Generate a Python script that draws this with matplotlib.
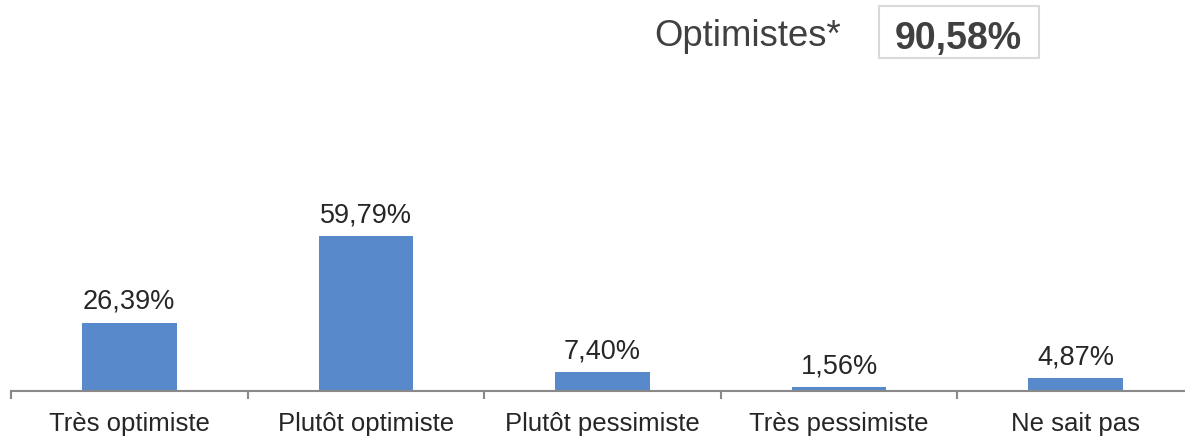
import matplotlib
matplotlib.use("Agg")
import matplotlib.pyplot as plt
from matplotlib.patches import Rectangle

categories = ["Très optimiste", "Plutôt optimiste", "Plutôt pessimiste", "Très pessimiste", "Ne sait pas"]
values = [26.39, 59.79, 7.40, 1.56, 4.87]
value_labels = ["26,39%", "59,79%", "7,40%", "1,56%", "4,87%"]
summary_label = "Optimistes*"
summary_value = "90,58%"

plt.rcParams['font.family'] = ['Liberation Sans', 'DejaVu Sans']

W, H = 1185, 439
fig = plt.figure(figsize=(W / 100, H / 100), dpi=100)
ax = fig.add_axes([11 / W, (H - 392) / H, (1194 - 11) / W, 392 / H])

x = range(len(categories))
ax.bar(x, values, width=0.4, color="#5889CA", zorder=2)
ax.set_xlim(-0.5, len(categories) - 0.5)
ax.set_ylim(0, 392 / 2.593)

for xi, v, lab in zip(x, values, value_labels):
    ax.annotate(lab, (xi, v), xytext=(0, 10.5), textcoords="offset points",
                ha="center", va="baseline", fontsize=19.5, color="#262626")

for s in ["top", "right", "left"]:
    ax.spines[s].set_visible(False)
ax.spines["bottom"].set_color("#898989")
ax.spines["bottom"].set_linewidth(1.5)
ax.set_yticks([])
ax.set_xticks([i - 0.5 for i in range(len(categories) + 1)], minor=False)
ax.set_xticklabels([])
ax.tick_params(axis="x", which="major", length=5.8, width=1.5, color="#898989")
ax.set_xticks(list(x), minor=True)
ax.set_xticklabels(categories, minor=True)
ax.tick_params(axis="x", which="minor", length=0, pad=14.5, labelsize=18.5, labelcolor="#262626")

fig.text(748 / W, (H - 36) / H, summary_label, ha="center", va="center", fontsize=26.3, color="#404040")
fig.patches.append(Rectangle((879 / W, (H - 59) / H), 160 / W, 52 / H, transform=fig.transFigure,
                             fill=False, edgecolor="#d9d9d9", linewidth=1.5))
fig.text(958 / W, (H - 39) / H, summary_value, ha="center", va="center", fontsize=27, fontweight="bold",
         color="#404040")

fig.savefig("out.png", dpi=100)
